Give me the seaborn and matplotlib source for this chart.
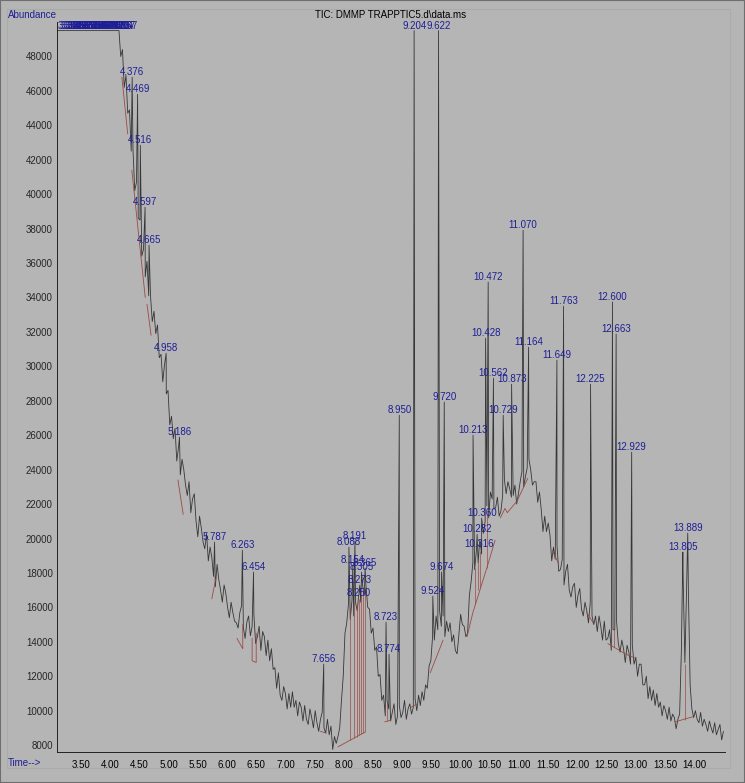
import numpy as np
import pandas as pd
import matplotlib
matplotlib.use("Agg")
import matplotlib.pyplot as plt
import seaborn as sns
from matplotlib.ticker import MultipleLocator, FormatStrFormatter
from matplotlib.patches import Rectangle

# ─────────────────────────────────────────────
# Data
# ─────────────────────────────────────────────
SCAN_START = 4.15   # first unsaturated scan, min
SCAN_STEP  = 0.03   # scan spacing, min

# detector saturated at the start of the run
sat_rt  = [3.09, 4.12]
sat_tic = [49500, 49500]

# TIC per scan, one minute per block
tic_a = [49500, 48000, 48400, 46200, 46900, 44700, 44900, 42500, 42600, 40200,
         40700, 38600, 38500, 36400, 36800, 35200, 36100, 34100, 34100, 32600,
         33200, 31900, 32400, 30500, 30700, 29100, 30100, 28400, 28600, 26600,
         27100, 25800, 26400, 24500]
tic_b = [25300, 23700, 24600, 24000, 23100, 22500, 23300, 21500, 22300, 22600,
         21000, 20100, 21300, 20600, 19800, 19400, 20300, 18700, 19500, 18900,
         17800, 17200, 18500, 17600, 17000, 16300, 17300, 16800, 16000, 15400,
         16300, 15700, 15200, 15100]
tic_c = [14800, 15700, 16100, 14800, 14200, 15150, 15500, 14350, 14900, 15600,
         13900, 14300, 14900, 13500, 14600, 14300, 13200, 14100, 12900, 13600,
         12400, 12500, 11300, 12200, 10900, 10600, 11400, 11000, 10100, 11000,
         10200, 11100, 10200, 10600]
tic_d = [9700, 10500, 10200, 9400, 10300, 9500, 9200, 10100, 9600, 9000,
         10000, 9300, 8800, 9500, 9900, 9000, 8700, 9500, 8600, 9100,
         7750, 8500, 8100, 8500, 9000, 10600, 12000, 14500, 15100, 16200,
         15300, 16400, 15500, 16300]
tic_e = [15800, 16800, 16300, 17300, 16700, 17200, 16000, 15900, 14500, 14800,
         13500, 13700, 12000, 12100, 10600, 10900, 9700, 10600, 10100, 9400,
         9900, 10400, 9200, 9700, 10300, 9600, 9900, 10600, 9500, 10100,
         10400, 9800, 10200, 10700]
tic_f = [10000, 10900, 10300, 11100, 10600, 11500, 11300, 12600, 12900, 14300,
         14100, 15500, 14700, 15800, 14900, 15500, 14300, 15200, 14600, 15100,
         14000, 14400, 13500, 13300, 14400, 15600, 15000, 14900, 14300, 14500,
         16700, 17500, 18600, 18200]
tic_g = [19300, 18600, 19900, 19100, 20300, 21000, 21900, 21200, 22700, 22300,
         21700, 21800, 22400, 21300, 21600, 22500, 23400, 22600, 23300, 22900,
         22400, 22500, 23100, 22000, 22600, 23300, 23900, 23000, 23600, 24100,
         24600, 24000, 23100, 23300]
tic_h = [23300, 22100, 22700, 21700, 20400, 21300, 20400, 20900, 20200, 18700,
         19500, 18800, 19600, 18100, 18200, 18800, 17300, 18100, 18500, 17000,
         16600, 17200, 17400, 16000, 16700, 17100, 15900, 15500, 16300, 15800,
         15100, 16300, 15500, 15000]
tic_i = [15500, 14600, 15500, 14900, 14100, 15200, 14100, 14200, 14700, 13500,
         14700, 14700, 15200, 13900, 13400, 14100, 13600, 12800, 13800, 13400,
         12700, 13800, 12700, 13100, 12000, 12700, 12700, 11500, 11500, 12000,
         10700, 11400, 10600, 11200]
tic_j = [10300, 11000, 10200, 10500, 9700, 10300, 10000, 9500, 10200, 9400,
         9800, 9600, 8950, 9500, 9800, 13500, 17800, 12800, 17200, 17000,
         11500, 10100, 9600, 10000, 9500, 9300, 9900, 9100, 9500, 9200,
         8800, 9400, 9000, 8700, 9300, 8600, 8900, 9200, 8300, 8800]

# integrated peaks: retention time and apex abundance
peak_rt = [4.376, 4.469, 4.516, 4.597, 4.665, 4.958, 5.186, 5.787, 6.263, 6.454,
           7.656, 8.088, 8.154, 8.191, 8.250, 8.273, 8.305, 8.365, 8.723, 8.774,
           8.950, 9.204, 9.524, 9.622, 9.674, 9.720, 10.213, 10.282, 10.316, 10.360,
           10.428, 10.472, 10.562, 10.729, 10.873, 11.070, 11.164, 11.649, 11.763,
           12.225, 12.600, 12.663, 12.929, 13.805, 13.889]
peak_top = [46790, 45800, 42840, 39240, 37035, 30760, 25890, 19790, 19320, 18050,
            12700, 19500, 18450, 19850, 16540, 17290, 18050, 18280, 15140, 13280,
            27160, 49500, 16650, 49500, 18050, 27920, 26000, 20250, 19380, 21180,
            31630, 34890, 29310, 27160, 28960, 37900, 31110, 30360, 33490,
            28960, 33730, 31870, 25010, 19210, 20310]

# peak labels piled up in the saturated part (they merge into one blue bar)
sat_label_rt = [3.300, 3.338, 3.379, 3.417, 3.456, 3.497, 3.535, 3.574, 3.616, 3.655,
                3.693, 3.734, 3.772, 3.811, 3.852, 3.890, 3.929, 3.970, 4.008, 4.047,
                4.088, 4.126, 4.165, 4.204, 4.237, 4.267]

# integration baselines (red)
baseline_paths = [
    [(4.20, 46800), (4.30, 43500)],
    [(4.37, 41400), (4.60, 34000)],
    [(4.63, 33600), (4.70, 31800)],
    [(5.16, 23400), (5.25, 21400)],
    [(5.74, 16500), (5.81, 17700)],
    [(6.17, 14200), (6.27, 13600), (6.27, 15000)],
    [(6.43, 14200), (6.43, 12900), (6.50, 12800), (6.50, 14500)],
    [(7.60, 8800), (7.70, 8700)],
    [(7.90, 7900), (8.36, 8750)],
    [(8.70, 9350), (8.81, 9450)],
    [(9.15, 10200), (9.26, 10400)],
    [(9.48, 12200), (9.70, 14100)],
    [(10.11, 14300), (10.21, 15700), (10.33, 17000), (10.45, 18300), (10.59, 19900)],
    [(10.68, 21200), (10.76, 21750), (10.80, 21500), (10.97, 22200), (11.15, 23500)],
    [(11.57, 19300), (11.67, 18600)],
    [(12.16, 15700), (12.27, 15100)],
    [(12.52, 13900), (12.82, 13300), (12.99, 13050)],
    [(13.67, 9350), (13.98, 9650)],
]

# drop lines between co-eluting peaks: time, low, high
drop_rt   = [8.10, 8.17, 8.22, 8.26, 8.29, 8.33, 8.36, 8.74, 10.25, 10.30, 10.34, 10.45, 12.63, 13.85]
drop_low  = [8270, 8400, 8500, 8570, 8620, 8700, 8750, 9380, 16200, 17000, 17100, 18300, 13700, 9480]
drop_high = [16000, 16300, 16200, 16500, 16700, 17000, 17200, 10500, 18300, 18800, 19300, 21500, 14800, 12700]

# ─────────────────────────────────────────────
# Build trace
# ─────────────────────────────────────────────
tic_scans = tic_a + tic_b + tic_c + tic_d + tic_e + tic_f + tic_g + tic_h + tic_i + tic_j
scan_rt = SCAN_START + SCAN_STEP * np.arange(len(tic_scans))

trace = pd.DataFrame({
    "rt":  np.concatenate([sat_rt, scan_rt, peak_rt]),
    "tic": np.concatenate([sat_tic, tic_scans, peak_top]),
}).sort_values("rt").reset_index(drop=True)

# ─────────────────────────────────────────────
# Style
# ─────────────────────────────────────────────
BG      = "#b5b5b5"
BLUE    = "#1e1e96"
TRACE   = "#363636"
BASECOL = "#9c4a44"

sns.set_style("white")
plt.rcParams["font.family"] = ["Liberation Sans", "DejaVu Sans"]

fig = plt.figure(figsize=(7.45, 7.83), dpi=100, facecolor=BG)
ax = fig.add_axes([57/745, 1 - 752/783, (725 - 57)/745, (752 - 22)/783])
ax.set_facecolor(BG)

sns.lineplot(data=trace, x="rt", y="tic", ax=ax, sort=False, estimator=None,
             color=TRACE, linewidth=0.6)

for path in baseline_paths:
    xs, ys = zip(*path)
    ax.plot(xs, ys, color=BASECOL, linewidth=0.6)
ax.vlines(drop_rt, drop_low, drop_high, color=BASECOL, linewidth=0.5)

# peak labels
for t, top in zip(peak_rt, peak_top):
    ax.annotate(f"{t:.3f}", xy=(t, top), xytext=(0, 1.5), textcoords="offset points",
                ha="center", va="baseline", fontsize=7, color=BLUE, annotation_clip=False)
for t in sat_label_rt:
    ax.annotate(f"{t:.3f}", xy=(t, 49500), xytext=(0, 1.5), textcoords="offset points",
                ha="center", va="baseline", fontsize=7, color=BLUE, annotation_clip=False)

ax.set_xlim(3.089, 14.527)
ax.set_ylim(7600, 50000)
ax.set_xlabel("")
ax.set_ylabel("")

ax.xaxis.set_minor_locator(MultipleLocator(0.1))
ax.xaxis.set_major_formatter(FormatStrFormatter("%.2f"))
ax.set_xticks(np.arange(3.5, 14.01, 0.5))
ax.set_yticks(np.arange(8000, 48001, 2000))
ax.tick_params(axis="x", which="major", length=4, width=0.6, pad=1.5, labelsize=7, direction="out", colors="black")
ax.tick_params(axis="x", which="minor", length=2, width=0.5, direction="out")
ax.tick_params(axis="y", which="major", length=0, pad=3, labelsize=7)

for s in ["top", "right"]:
    ax.spines[s].set_visible(False)
for s in ["left", "bottom"]:
    ax.spines[s].set_color("#222222")
    ax.spines[s].set_linewidth(0.7)

# header / footer texts
fig.text(391/745, 1 - 15/783, "TIC: DMMP TRAPPTIC5.d\\data.ms", ha="center", va="center",
         fontsize=7, color="black")
fig.text(8/745, 1 - 15/783, "Abundance", ha="left", va="center", fontsize=7, color=BLUE)
fig.text(8/745, 1 - 763/783, "Time-->", ha="left", va="center", fontsize=7, color=BLUE)

# frames
fig.add_artist(Rectangle((7/745, 1 - 768/783), (730 - 7)/745, (768 - 9)/783,
                         transform=fig.transFigure, fill=False, edgecolor="#a6afa6", linewidth=0.8))
fig.add_artist(Rectangle((0, 0), 1, 1, transform=fig.transFigure, fill=False,
                         edgecolor="#6e6e6e", linewidth=1.5))

fig.savefig("out.png", dpi=100, facecolor=BG)
